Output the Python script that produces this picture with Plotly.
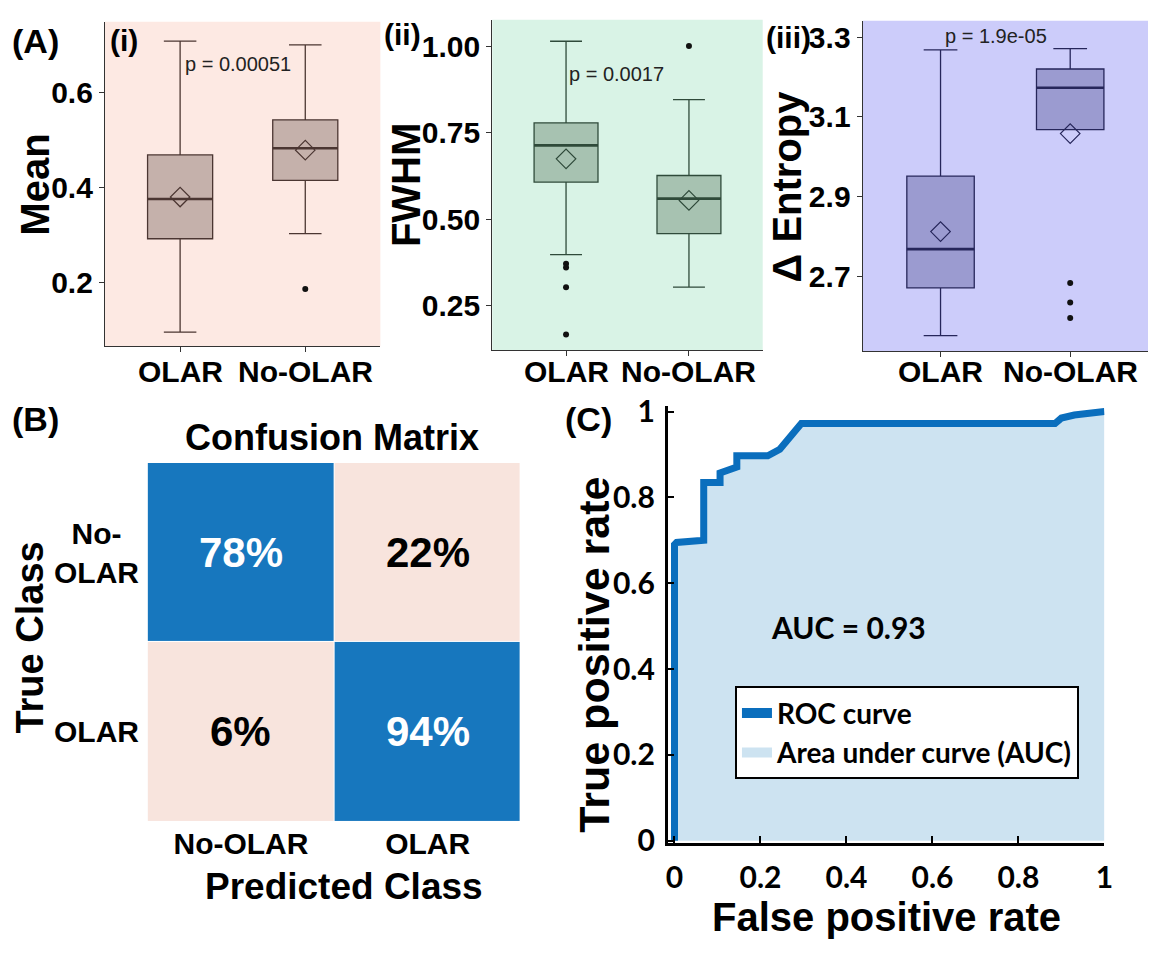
import plotly.graph_objects as go

W, H = 1157, 954
ARIAL = "Liberation Sans, Arial, sans-serif"
CAL = "Lato, Carlito, sans-serif"

# ---------------- data ----------------
groups = ["OLAR", "No-OLAR"]

# (i) Mean
mean_q1 = [0.292, 0.415]
mean_med = [0.376, 0.483]
mean_q3 = [0.469, 0.543]
mean_lo = [0.095, 0.303]
mean_hi = [0.709, 0.701]
mean_avg = [0.380, 0.479]
mean_out = [[], [0.186]]
mean_p = "p = 0.00051"

# (ii) FWHM
fwhm_q1 = [0.607, 0.458]
fwhm_med = [0.713, 0.559]
fwhm_q3 = [0.778, 0.626]
fwhm_lo = [0.397, 0.303]
fwhm_hi = [1.014, 0.845]
fwhm_avg = [0.674, 0.554]
fwhm_out = [[0.371, 0.360, 0.303, 0.166], [1.0]]
fwhm_p = "p = 0.0017"

# (iii) Delta entropy
ent_q1 = [2.671, 3.068]
ent_med = [2.768, 3.173]
ent_q3 = [2.951, 3.220]
ent_lo = [2.551, 3.068]
ent_hi = [3.268, 3.271]
ent_avg = [2.812, 3.058]
ent_out = [[], [2.683, 2.634, 2.595]]
ent_p = "p = 1.9e-05"

# confusion matrix (rows = true class, top to bottom; cols = predicted)
cm_pred = ["No-OLAR", "OLAR"]
cm_true = ["No-OLAR", "OLAR"]
cm_vals = [[78, 22], [6, 94]]

# ROC curve
fpr = [0.0, 0.0, 0.005, 0.068, 0.068, 0.106, 0.106, 0.145, 0.145, 0.217, 0.245, 0.255, 0.27, 0.28, 0.295,
       0.885, 0.90, 0.93, 1.0]
tpr = [0.0, 0.69, 0.695, 0.70, 0.835, 0.835, 0.857, 0.871, 0.897, 0.897, 0.912, 0.925, 0.94, 0.955, 0.972,
       0.972, 0.985, 0.992, 1.0]
auc_text = "AUC = 0.93"


def px(x):
    return x / W


def py(y):
    return 1 - y / H


fig = go.Figure()

panels = [
    dict(ax="", q1=mean_q1, med=mean_med, q3=mean_q3, lo=mean_lo, hi=mean_hi, avg=mean_avg, out=mean_out,
         fill="#c5b1ab", line="#4b3632", bg="#fde9e3",
         dom=[px(104), px(382)], ydom=[py(343), py(9)], yr=[0.065, 0.75],
         tv=[0.2, 0.4, 0.6], tt=["0.2", "0.4", "0.6"]),
    dict(ax="2", q1=fwhm_q1, med=fwhm_med, q3=fwhm_q3, lo=fwhm_lo, hi=fwhm_hi, avg=fwhm_avg, out=fwhm_out,
         fill="#a7c2b1", line="#2f4a3a", bg="#d9f3e6",
         dom=[px(495), px(768)], ydom=[py(347), py(7)], yr=[0.121, 1.076],
         tv=[0.25, 0.5, 0.75, 1.0], tt=["0.25", "0.50", "0.75", "1.00"]),
    dict(ax="3", q1=ent_q1, med=ent_med, q3=ent_q3, lo=ent_lo, hi=ent_hi, avg=ent_avg, out=ent_out,
         fill="#9b9bd0", line="#26265a", bg="#ccccfa",
         dom=[px(869), 1.0], ydom=[py(348), py(8)], yr=[2.512, 3.341],
         tv=[2.7, 2.9, 3.1, 3.3], tt=["2.7", "2.9", "3.1", "3.3"]),
]

BOXW = 0.52
for p in panels:
    xa, ya = "x" + p["ax"], "y" + p["ax"]
    pos = list(range(len(groups)))
    fig.add_trace(go.Box(
        x=pos, q1=p["q1"], median=p["med"], q3=p["q3"], lowerfence=p["lo"], upperfence=p["hi"],
        width=BOXW, fillcolor=p["fill"], line=dict(color=p["line"], width=1.3),
        boxpoints=False, showlegend=False, xaxis=xa, yaxis=ya, hoverinfo="skip"))
    for i in pos:
        fig.add_trace(go.Scatter(
            x=[i - BOXW / 2, i + BOXW / 2], y=[p["med"][i], p["med"][i]], mode="lines",
            line=dict(color=p["line"], width=2.6), showlegend=False, xaxis=xa, yaxis=ya, hoverinfo="skip"))
    fig.add_trace(go.Scatter(
        x=pos, y=p["avg"], mode="markers",
        marker=dict(symbol="diamond-open", size=15, color=p["line"], line=dict(width=1.2)),
        showlegend=False, xaxis=xa, yaxis=ya, hoverinfo="skip"))
    ox, oy = [], []
    for i in pos:
        ox += [i] * len(p["out"][i])
        oy += p["out"][i]
    fig.add_trace(go.Scatter(
        x=ox, y=oy, mode="markers", marker=dict(size=6, color="#111"),
        showlegend=False, xaxis=xa, yaxis=ya, hoverinfo="skip"))

z_rows = list(reversed(cm_vals))
y_rows = list(reversed(cm_true))
fig.add_trace(go.Heatmap(
    x=cm_pred, y=y_rows, z=z_rows, zmin=0, zmax=100, xgap=1, ygap=1,
    colorscale=[[0, "#f8e4dd"], [0.5, "#f8e4dd"], [0.5, "#1777be"], [1, "#1777be"]],
    showscale=False, xaxis="x4", yaxis="y4", hoverinfo="skip"))

ROC_COL = "#0a6ebd"
AUC_COL = "#cde3f1"
fig.add_trace(go.Scatter(
    x=fpr, y=tpr, mode="lines", fill="tozeroy", fillcolor=AUC_COL, line=dict(width=0, color=AUC_COL),
    legendgroup="auc", showlegend=False, xaxis="x5", yaxis="y5", hoverinfo="skip"))
fig.add_trace(go.Scatter(
    x=fpr, y=tpr, mode="lines", line=dict(color=ROC_COL, width=7),
    legendgroup="roc", showlegend=False, xaxis="x5", yaxis="y5", hoverinfo="skip"))
fig.add_trace(go.Scatter(
    x=[None], y=[None], mode="lines", line=dict(color=ROC_COL, width=12),
    name="ROC curve", legendgroup="roc", legendrank=1, xaxis="x5", yaxis="y5"))
fig.add_trace(go.Scatter(
    x=[None], y=[None], mode="lines", line=dict(color=AUC_COL, width=26),
    name="Area under curve (AUC)", legendgroup="auc", legendrank=2, xaxis="x5", yaxis="y5"))

layout = dict(
    width=W, height=H, margin=dict(l=0, r=0, t=0, b=0),
    paper_bgcolor="white", plot_bgcolor="white",
    showlegend=True,
    legend=dict(x=px(740), y=py(693), xanchor="left", yanchor="top",
                bgcolor="white", bordercolor="black", borderwidth=2,
                font=dict(family=CAL, size=28, color="black", weight="bold"),
                tracegroupgap=0, itemwidth=30),
)

shapes = []
annotations = []
for p in panels:
    k = p["ax"]
    layout["xaxis" + k] = dict(
        domain=p["dom"], anchor="y" + k, range=[-0.6, 1.6], tickvals=[0, 1], showticklabels=False,
        showline=True, linecolor="#333", linewidth=1.3, ticks="outside", ticklen=5, tickcolor="#333",
        showgrid=False, zeroline=False)
    layout["yaxis" + k] = dict(
        domain=p["ydom"], anchor="x" + k, range=p["yr"], tickvals=p["tv"], ticktext=p["tt"],
        showline=True, linecolor="#333", linewidth=1.3, ticks="outside", ticklen=5, tickcolor="#333",
        showgrid=False, zeroline=False,
        tickfont=dict(family=ARIAL, size=30, color="black", weight="bold"))
    shapes.append(dict(type="rect", xref=("x" + k) + " domain", yref=("y" + k) + " domain",
                       x0=0, x1=1, y0=0, y1=1, fillcolor=p["bg"], line=dict(width=0), layer="below"))
    for i, g in enumerate(groups):
        annotations.append(dict(text=g, x=i, y=py(369), xref="x" + k, yref="paper", showarrow=False,
                                xanchor="center", yanchor="middle",
                                font=dict(family=ARIAL, size=30, color="black", weight="bold")))

layout["xaxis4"] = dict(domain=[px(147), px(524)], anchor="y4", showgrid=False, zeroline=False,
                        showline=False, ticks="", ticklabelstandoff=2,
                        tickfont=dict(family=ARIAL, size=30, color="black", weight="bold"))
layout["yaxis4"] = dict(domain=[py(832), py(463)], anchor="x4", showgrid=False, zeroline=False,
                        showline=False, ticks="", showticklabels=False)

ctick = [0, 0.2, 0.4, 0.6, 0.8, 1]
cticktext = ["0", "0.2", "0.4", "0.6", "0.8", "1"]
layout["xaxis5"] = dict(domain=[px(672), px(1113)], anchor="y5", range=[-0.016, 1.0],
                        tickvals=ctick, ticktext=cticktext, showline=True, linecolor="black", linewidth=2.5,
                        ticks="inside", ticklen=7, tickwidth=2, tickcolor="black",
                        showgrid=False, zeroline=False, ticklabelstandoff=6,
                        tickfont=dict(family=CAL, size=30, color="black", weight="bold"))
layout["yaxis5"] = dict(domain=[py(854), py(404)], anchor="x5", range=[-0.005, 1.014],
                        tickvals=ctick, ticktext=cticktext, showline=True, linecolor="black", linewidth=2.5,
                        ticks="inside", ticklen=7, tickwidth=2, tickcolor="black",
                        showgrid=False, zeroline=False, ticklabelstandoff=4,
                        tickfont=dict(family=CAL, size=30, color="black", weight="bold"))


def ann(text, x, y, size, family=ARIAL, bold=True, angle=0, xanchor="center", color="black", **kw):
    d = dict(text=text, x=x, y=y, xref="paper", yref="paper", showarrow=False,
             xanchor=xanchor, yanchor="middle", textangle=angle,
             font=dict(family=family, size=size, color=color, weight="bold" if bold else "normal"))
    d.update(kw)
    annotations.append(d)


ann("(A)", px(8), py(29), 34, xanchor="left")
ann("(i)", px(107), py(28), 30, xanchor="left")
ann("(ii)", px(384), py(22), 30, xanchor="left")
ann("(iii)", px(769), py(25), 30, xanchor="left")
ann("(B)", px(8), py(418), 34, xanchor="left")
ann("(C)", px(566), py(418), 34, xanchor="left")

ann(mean_p, px(238), py(52), 20, bold=False, color="#222")
ann(fwhm_p, px(620), py(63), 20, bold=False, color="#222")
ann(ent_p, px(1004), py(24), 20, bold=False, color="#222")

ann("Mean", px(33), py(177), 40, angle=-90)
ann("FWHM", px(408), py(177), 40, angle=-90)
ann("Δ Entropy", px(793), py(178), 40, angle=-90)

ann("Confusion Matrix", px(333), py(437), 36)
ann("Predicted Class", px(345), py(899), 37)
ann("True Class", px(28), py(643), 38, angle=-90)
for i, t in enumerate(cm_true):
    label = "No-<br>OLAR" if t == "No-OLAR" else t
    annotations.append(dict(text=label, x=px(95), y=t, xref="paper", yref="y4", showarrow=False,
                            xanchor="center", yanchor="middle", align="center",
                            font=dict(family=ARIAL, size=30, color="black", weight="bold")))
for i, t in enumerate(cm_true):
    for j, pcls in enumerate(cm_pred):
        v = cm_vals[i][j]
        annotations.append(dict(text=f"{v}%", x=pcls, y=t, xref="x4", yref="y4", showarrow=False,
                                font=dict(family=ARIAL, size=42, weight="bold",
                                          color="white" if v > 50 else "black")))

ann(auc_text, px(855), py(632), 30, family=CAL)
ann("True positive rate", px(598), py(660), 43, angle=-90)
ann("False positive rate", px(893), py(930), 40)

layout["shapes"] = shapes
layout["annotations"] = annotations
fig.update_layout(**layout)
fig.write_html(
    "out.html", config={"displayModeBar": False},
    post_script=("document.body.style.margin='0';"
                 "document.body.style.overflow='hidden';"
                 "document.documentElement.style.overflow='hidden';"))
